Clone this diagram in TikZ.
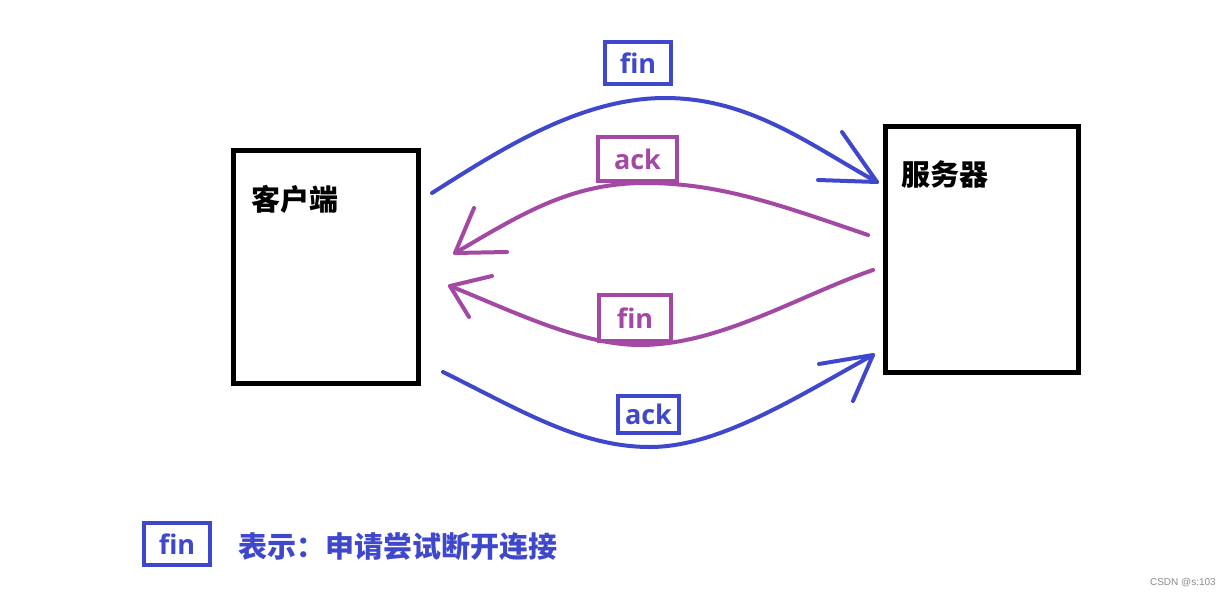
\documentclass[tikz,border=0pt]{standalone}
\usepackage{fontspec}
\setmainfont{Open Sans}
\newfontfamily\cjk{Noto Sans CJK SC}
\newfontfamily\wm{Liberation Sans}
\definecolor{cblue}{HTML}{3F48CC}
\definecolor{cpurple}{HTML}{A349A4}
\begin{document}
\begin{tikzpicture}[x=1pt,y=-1pt,
  host/.style={draw=black,line width=5pt,inner sep=0pt},
  hosttext/.style={anchor=west,font=\cjk\bfseries\fontsize{29}{29}\selectfont,inner sep=0pt},
  lbl/.style={draw=#1,text=#1,line width=4pt,inner sep=0pt,font=\bfseries\fontsize{27}{27}\selectfont},
  flow/.style={draw=#1,line width=4pt,line cap=round,line join=round}]
\useasboundingbox (0,0) rectangle (1231,597);
\fill[white] (0,0) rectangle (1231,597);
% hosts
\node[host,minimum width=185pt,minimum height=233pt] (client) at (325.5,266.5) {};
\node[host,minimum width=193pt,minimum height=246pt] (server) at (981.5,249) {};
\node[hosttext] (clientt) at (251,199) {客户端};
\node[hosttext] (servert) at (901,174) {服务器};
% coordinates
\coordinate (a1) at (432,193); \coordinate (t1) at (877,182);
\coordinate (a2) at (868,235); \coordinate (t2) at (455,253);
\coordinate (a3) at (873,270); \coordinate (t3) at (450,286);
\coordinate (a4) at (443,372); \coordinate (t4) at (873,355);
\coordinate (w1a) at (842,132); \coordinate (w1b) at (818,180);
\coordinate (w2a) at (474,208); \coordinate (w2b) at (507,252);
\coordinate (w3a) at (492,276); \coordinate (w3b) at (469,317);
\coordinate (w4a) at (819,364); \coordinate (w4b) at (853,401);
% flows
\draw[flow=cblue] (a1) .. controls (500,150) and (580,98) .. (665,98) .. controls (750,98) and (810,145) .. (t1);
\draw[flow=cblue] (w1a) -- (t1) -- (w1b);
\draw[flow=cpurple] (a2) .. controls (780,205) and (720,183) .. (645,183) .. controls (570,183) and (520,215) .. (t2);
\draw[flow=cpurple] (w2a) -- (t2) -- (w2b);
\draw[flow=cpurple] (a3) .. controls (800,295) and (720,345) .. (640,345) .. controls (580,345) and (510,310) .. (t3);
\draw[flow=cpurple] (w3a) -- (t3) -- (w3b);
\draw[flow=cblue] (a4) .. controls (520,410) and (580,447) .. (650,447) .. controls (720,447) and (800,395) .. (t4);
\draw[flow=cblue] (w4a) -- (t4) -- (w4b);
% labels
\node[lbl=cblue,minimum width=66pt,minimum height=42pt] (l1) at (638,63) {fin};
\node[lbl=cpurple,fill=white,minimum width=79pt,minimum height=44pt] (l2) at (637.5,159) {ack};
\node[lbl=cpurple,fill=white,minimum width=72pt,minimum height=46pt] (l3) at (635,318) {fin};
\node[lbl=cblue,minimum width=61pt,minimum height=37pt] (l4) at (648.5,414.5) {ack};
% legend
\node[lbl=cblue,minimum width=66pt,minimum height=42pt] (leg) at (177,544) {fin};
\node[anchor=west,inner sep=0pt,text=cblue,font=\cjk\bfseries\fontsize{29}{29}\selectfont] (legt) at (238,547) {表示：申请尝试断开连接};
\node[anchor=east,inner sep=0pt,text=black!45,font=\wm\fontsize{10}{10}\selectfont] (wmk) at (1216,583) {CSDN @s:103};
\end{tikzpicture}
\end{document}
